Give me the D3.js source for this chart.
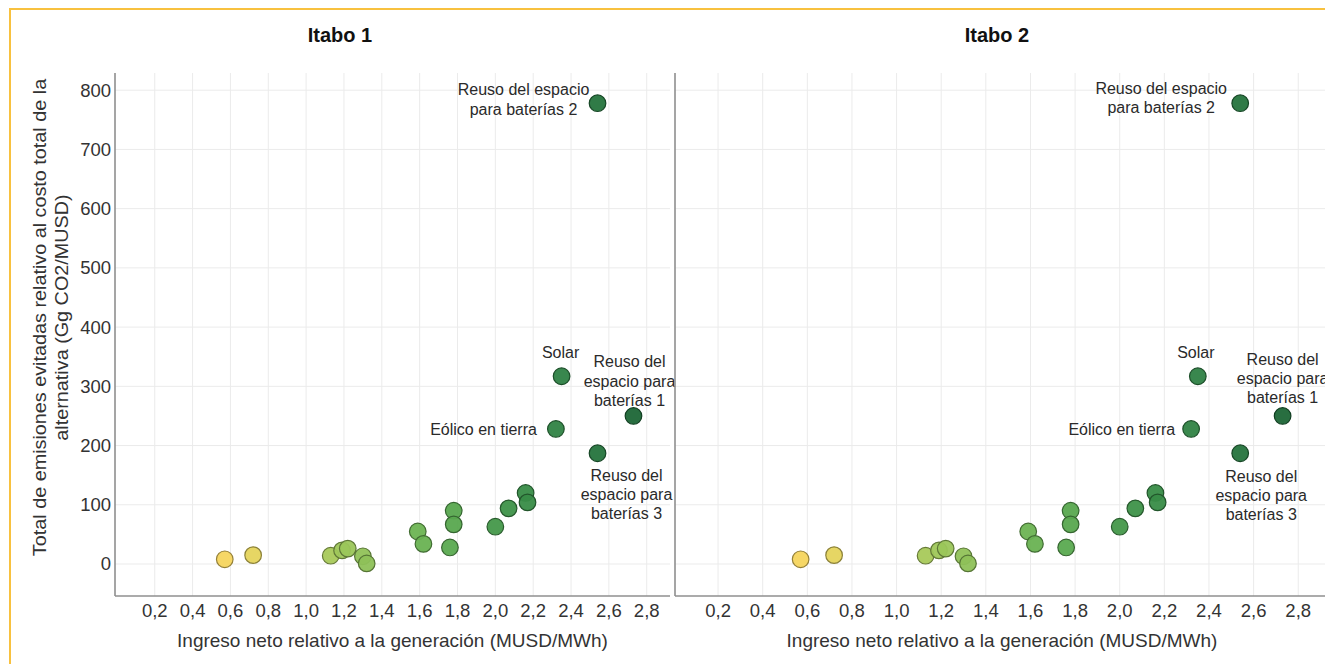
<!DOCTYPE html>
<html>
<head>
<meta charset="utf-8">
<script src="https://cdn.jsdelivr.net/npm/d3@7"></script>
<style>
  body { margin: 0; background: #fff; }
  svg { display: block; font-family: "Liberation Sans", Arial, sans-serif; }
</style>
</head>
<body>
<div id="chart"></div>
<script>
// panel titles
var panelNames = ["Itabo 1", "Itabo 2"];

// ingreso neto relativo (MUSD/MWh) and emisiones evitadas (Gg CO2/MUSD)
var xValues = [0.57, 0.72, 1.13, 1.19, 1.22, 1.30, 1.32, 1.59, 1.62, 1.76, 1.78, 1.78,
    2.00, 2.07, 2.16, 2.17, 2.32, 2.35, 2.54, 2.73, 2.54];
var yValues = [8, 15, 14, 23, 26, 13, 1, 55, 34, 28, 90, 67,
    63, 94, 120, 104, 228, 317, 187, 250, 778];
var pointLabels = ["", "", "", "", "", "", "", "", "", "", "", "",
    "", "", "", "", "Eólico en tierra", "Solar", "Reuso del espacio para baterías 3",
    "Reuso del espacio para baterías 1", "Reuso del espacio para baterías 2"];

var xTicks = [0.2, 0.4, 0.6, 0.8, 1.0, 1.2, 1.4, 1.6, 1.8, 2.0, 2.2, 2.4, 2.6, 2.8];
var yTicks = [0, 100, 200, 300, 400, 500, 600, 700, 800];

var xTitle = "Ingreso neto relativo a la generación (MUSD/MWh)";
var yTitleLines = ["Total de emisiones evitadas relativo al costo total de la",
    "alternativa (Gg CO2/MUSD)"];

var width = 1325;
var height = 664;
var plotTop = 73, plotBottom = 596;

// each facet gets its own pixel span (the source image is not evenly split)
var panels = [
    { left: 115, right: 670, domain: [-0.01, 2.923], titleX: 340 },
    { left: 675, right: 1325, domain: [0.007, 2.92], titleX: 997 }
];

// label placement per panel: anchor, dx, and the dy of each text line
var labelPlacement = [
    {
        "Eólico en tierra": { anchor: "end", dx: -19, lines: [["Eólico en tierra", 0]] },
        "Solar": { anchor: "middle", dx: -1, lines: [["Solar", -24]] },
        "Reuso del espacio para baterías 3": { anchor: "middle", dx: 29,
            lines: [["Reuso del", 22], ["espacio para", 41], ["baterías 3", 60]] },
        "Reuso del espacio para baterías 1": { anchor: "middle", dx: -4,
            lines: [["Reuso del", -55], ["espacio para", -35], ["baterías 1", -16]] },
        "Reuso del espacio para baterías 2": { anchor: "middle", dx: -74,
            lines: [["Reuso del espacio", -14], ["para baterías 2", 6]] }
    },
    {
        "Eólico en tierra": { anchor: "end", dx: -16, lines: [["Eólico en tierra", 0]] },
        "Solar": { anchor: "middle", dx: -2, lines: [["Solar", -24]] },
        "Reuso del espacio para baterías 3": { anchor: "middle", dx: 21,
            lines: [["Reuso del", 23], ["espacio para", 42], ["baterías 3", 61]] },
        "Reuso del espacio para baterías 1": { anchor: "middle", dx: 0,
            lines: [["Reuso del", -57], ["espacio para", -38], ["baterías 1", -19]] },
        "Reuso del espacio para baterías 2": { anchor: "middle", dx: -79,
            lines: [["Reuso del espacio", -15], ["para baterías 2", 4]] }
    }
];

var color = d3.scaleLinear()
    .domain([0.57, 0.75, 1.2, 1.7, 2.1, 2.4, 2.73])
    .range(["#f5d55e", "#e2d45c", "#9dc75a", "#5fae51", "#3b9048", "#2c7e43", "#1c6636"]);

var svg = d3.select("#chart").append("svg")
    .attr("width", width)
    .attr("height", height);

svg.append("rect").attr("width", width).attr("height", height).attr("fill", "#fff");

// orange frame (top and left edges visible)
svg.append("path")
    .attr("d", "M10," + height + "V9H" + width)
    .attr("fill", "none")
    .attr("stroke", "#f8c13f")
    .attr("stroke-width", 2);

var y = d3.scaleLinear().domain([-54, 829]).range([plotBottom, plotTop]);

var points = xValues.map(function(d, i) {
    return { x: d, y: yValues[i], label: pointLabels[i] };
});

panels.forEach(function(p, pi) {
    var x = d3.scaleLinear().domain(p.domain).range([p.left, p.right]);
    var g = svg.append("g");

    // grid
    g.selectAll(".vgrid").data(xTicks).enter().append("line")
        .attr("x1", d => x(d)).attr("x2", d => x(d))
        .attr("y1", plotTop).attr("y2", plotBottom)
        .attr("stroke", "#ebebeb").attr("stroke-width", 1);
    g.selectAll(".hgrid").data(yTicks).enter().append("line")
        .attr("x1", p.left).attr("x2", p.right)
        .attr("y1", d => y(d)).attr("y2", d => y(d))
        .attr("stroke", "#ebebeb").attr("stroke-width", 1);

    // axis lines
    g.append("line")
        .attr("x1", p.left).attr("x2", p.left)
        .attr("y1", plotTop).attr("y2", plotBottom)
        .attr("stroke", "#8f8f8f").attr("stroke-width", 1.6);
    g.append("line")
        .attr("x1", p.left).attr("x2", p.right)
        .attr("y1", plotBottom).attr("y2", plotBottom)
        .attr("stroke", "#8f8f8f").attr("stroke-width", 1.6);

    // x tick labels
    g.selectAll(".xt").data(xTicks).enter().append("text")
        .attr("x", d => x(d))
        .attr("y", 611)
        .attr("dy", "0.35em")
        .attr("text-anchor", "middle")
        .attr("font-size", 18.5)
        .attr("fill", "#333")
        .text(d => d3.format(".1f")(d).replace(".", ","));

    // y tick labels only on the first facet
    if (pi === 0) {
        g.selectAll(".yt").data(yTicks).enter().append("text")
            .attr("x", p.left - 4)
            .attr("y", d => y(d))
            .attr("dy", "0.35em")
            .attr("text-anchor", "end")
            .attr("font-size", 18.5)
            .attr("fill", "#333")
            .text(d => d);
    }

    // facet title
    g.append("text")
        .attr("x", p.titleX)
        .attr("y", 35)
        .attr("dy", "0.35em")
        .attr("text-anchor", "middle")
        .attr("font-size", 20)
        .attr("font-weight", "bold")
        .attr("fill", "#111")
        .text(panelNames[pi]);

    // x title
    g.append("text")
        .attr("x", (p.left + Math.min(p.right, 1325)) / 2 + (pi === 0 ? 0 : 2))
        .attr("y", 640)
        .attr("dy", "0.35em")
        .attr("text-anchor", "middle")
        .attr("font-size", 19)
        .attr("fill", "#333")
        .text(xTitle);

    // points
    g.selectAll("circle").data(points).enter().append("circle")
        .attr("cx", d => x(d.x))
        .attr("cy", d => y(d.y))
        .attr("r", 8.3)
        .attr("fill", d => color(d.x))
        .attr("stroke", d => d3.color(color(d.x)).darker(1.4))
        .attr("stroke-width", 1.2)
        .attr("fill-opacity", 0.95);

    // annotations
    points.filter(d => d.label).forEach(function(d) {
        var pl = labelPlacement[pi][d.label];
        pl.lines.forEach(function(line) {
            g.append("text")
                .attr("x", x(d.x) + pl.dx)
                .attr("y", y(d.y) + line[1])
                .attr("dy", "0.35em")
                .attr("text-anchor", pl.anchor)
                .attr("font-size", 16)
                .attr("fill", "#2a2a2a")
                .text(line[0]);
        });
    });
});

// y title, two lines rotated, stretched along its length like the source
var yt = svg.append("text")
    .attr("transform", "translate(40," + ((plotTop + plotBottom) / 2 - 17) + ") rotate(-90) scale(1.1,1)")
    .attr("text-anchor", "middle")
    .attr("font-size", 18)
    .attr("fill", "#333");
yTitleLines.forEach(function(t, i) {
    yt.append("tspan")
        .attr("x", 0)
        .attr("y", i * 22)
        .attr("dy", "0.35em")
        .text(t);
});
</script>
</body>
</html>
